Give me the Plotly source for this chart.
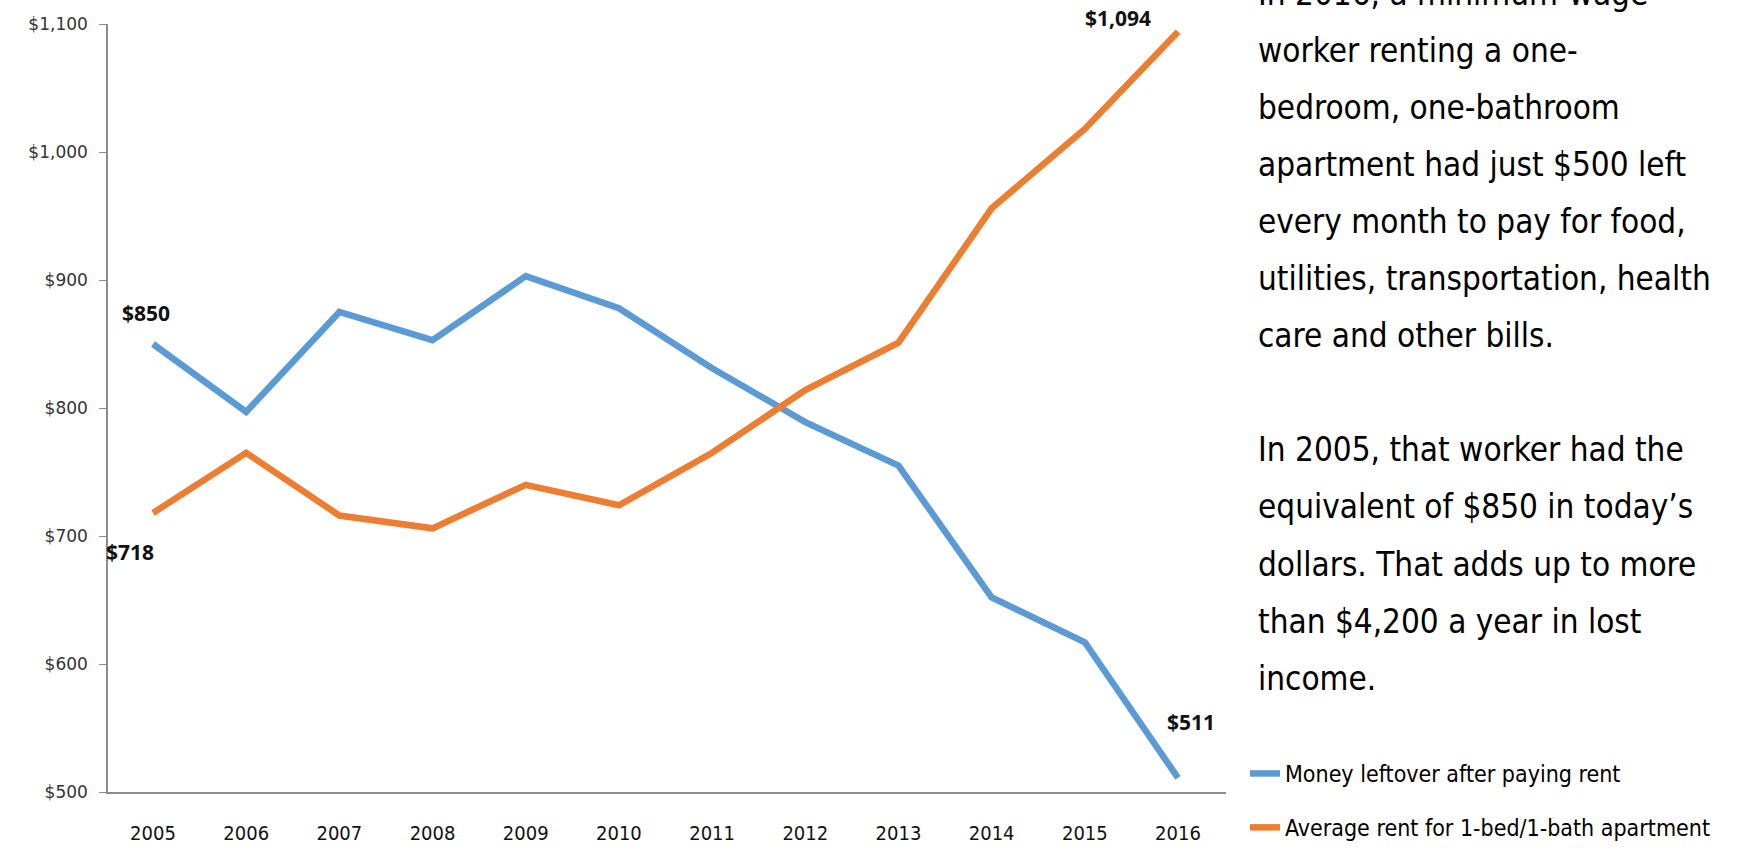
import plotly.graph_objects as go

years = ["2005", "2006", "2007", "2008", "2009", "2010",
         "2011", "2012", "2013", "2014", "2015", "2016"]
leftover = [850, 797, 875, 853, 903, 878, 831, 789, 755, 652, 617, 511]
rent = [718, 765, 716, 706, 740, 724, 765, 814, 851, 956, 1018, 1094]
y_ticks = [500, 600, 700, 800, 900, 1000, 1100]
y_tick_text = ["$500", "$600", "$700", "$800", "$900", "$1,000", "$1,100"]

note_lines = [
    "In 2016, a minimum-wage",
    "worker renting a one-",
    "bedroom, one-bathroom",
    "apartment had just $500 left",
    "every month to pay for food,",
    "utilities, transportation, health",
    "care and other bills.",
    "",
    "In 2005, that worker had the",
    "equivalent of $850 in today\u2019s",
    "dollars. That adds up to more",
    "than $4,200 a year in lost",
    "income.",
]

W, H = 1739, 849
L, R, T, B = 108, 1226, 24, 792
NARROW = "DejaVu Sans Condensed, Roboto, sans-serif"


def px(x):
    return (x - L) / (R - L)


def py(y):
    return (B - y) / (B - T)


fig = go.Figure()
fig.add_trace(go.Scatter(x=years, y=leftover, mode="lines",
                         name="Money leftover after paying rent",
                         legendgroup="a",
                         line=dict(color="#5B9BD5", width=6.5)))
fig.add_trace(go.Scatter(x=years, y=rent, mode="lines",
                         name="Average rent for 1-bed/1-bath apartment",
                         legendgroup="b",
                         line=dict(color="#ED7D31", width=6.5)))

label_font = dict(family="Open Sans, sans-serif", size=21, color="#111")
last = len(years) - 1
ann = []
# point labels: (series, index, xshift, yshift)
for series, i, dx, dy in [(leftover, 0, -7, 31), (rent, 0, -23, -39),
                          (rent, last, -60, 14), (leftover, last, 13, 56)]:
    ann.append(dict(x=i, y=series[i], xref="x", yref="y",
                    text="<b>$" + format(series[i], ",") + "</b>",
                    showarrow=False, xshift=dx, yshift=dy, font=label_font))

for k, line in enumerate(note_lines):
    if not line:
        continue
    ann.append(dict(x=px(1256), y=py(-7 + 57.1 * k), xref="paper", yref="paper",
                    xanchor="left", yanchor="middle", text=line, showarrow=False,
                    font=dict(family=NARROW, size=33, color="#000")))

fig.update_layout(
    width=W, height=H,
    margin=dict(l=L, r=W - R, t=T, b=H - B, autoexpand=False),
    paper_bgcolor="white", plot_bgcolor="white",
    showlegend=True,
    legend=dict(x=px(1245), y=py(752), xanchor="left", yanchor="top",
                font=dict(family=NARROW, size=23, color="#000"),
                tracegroupgap=21, bgcolor="rgba(0,0,0,0)"),
    annotations=ann,
    xaxis=dict(type="category", range=[-0.483, 11.515], showgrid=False,
               showline=True, linecolor="#8C8C8C", linewidth=1.5,
               ticks="", ticklabelstandoff=22, automargin=False,
               tickfont=dict(family=NARROW, size=20, color="#111")),
    yaxis=dict(range=[500, 1100], tickvals=y_ticks, ticktext=y_tick_text,
               showgrid=False, zeroline=False, showline=True,
               linecolor="#8C8C8C", linewidth=1.5, ticks="outside",
               ticklen=7, tickcolor="#8C8C8C", ticklabelstandoff=8,
               automargin=False,
               tickfont=dict(family="DejaVu Sans, sans-serif", size=17, color="#333")),
)

# the page's default body margin would push the chart 8px right/down
fig.write_html("out.html", config={"displayModeBar": False},
               post_script="document.body.style.margin='0';")
